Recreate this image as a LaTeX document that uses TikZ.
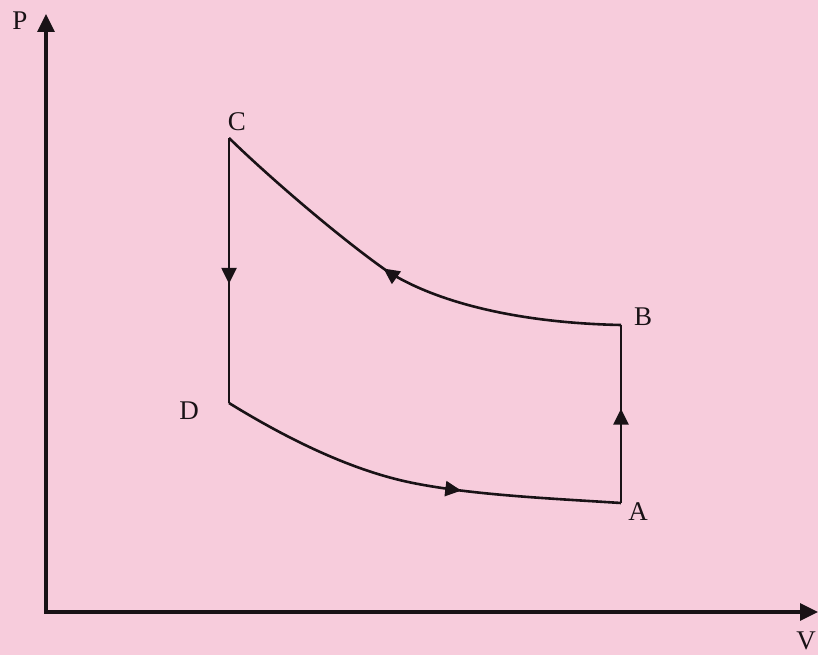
\documentclass[tikz,border=0pt]{standalone}
\usepackage{fontspec}
\setmainfont{Liberation Serif}
\usetikzlibrary{arrows.meta,decorations.markings}
\definecolor{bgpink}{RGB}{247,204,220}
\definecolor{ink}{RGB}{25,18,22}
\tikzset{
  axis/.style={draw=ink,line width=3.2pt,-{Triangle[length=18pt,width=17pt]}},
  proc/.style={draw=ink,line width=2.6pt},
  midarrow/.style={postaction={decorate},decoration={markings,
     mark=at position #1 with {\arrow{Triangle[length=16pt,width=15pt]}}}},
  lbl/.style={inner sep=0pt,font=\fontsize{27}{28}\selectfont,text=ink}
}
\begin{document}
\begin{tikzpicture}[x=1pt,y=-1pt]
\fill[bgpink] (0,0) rectangle (818,655);
\useasboundingbox (0,0) rectangle (818,655);
% axes
\coordinate (O) at (46,612);
\coordinate (Ptop) at (46,14);
\coordinate (Vend) at (818,612);
\draw[axis] (O) -- (Ptop);
\draw[axis] ([xshift=-1.6pt]O) -- (Vend);
\node[lbl] (Plbl) at (20,21) {P};
\node[lbl] (Vlbl) at (806,641) {V};
% states
\coordinate (C) at (229,138);
\coordinate (D) at (229,403);
\coordinate (A) at (621,503);
\coordinate (B) at (621,325);
\node[lbl] (Clbl) at (237,122) {C};
\node[lbl] (Dlbl) at (189,411) {D};
\node[lbl] (Albl) at (638,512) {A};
\node[lbl] (Blbl) at (643,317) {B};
% processes
\draw[proc,midarrow=0.55] (C) -- (D);
\draw[proc,midarrow=0.53] (A) -- (B);
\draw[proc,midarrow=0.55] (B) .. controls (520,323) and (437,303) .. (387,271)
   .. controls (340,238) and (270,178) .. (C);
\draw[proc,midarrow=0.61] (D) .. controls (289,440) and (353,471) .. (413,483)
   .. controls (473,495) and (551,498.5) .. (A);
\end{tikzpicture}
\end{document}
